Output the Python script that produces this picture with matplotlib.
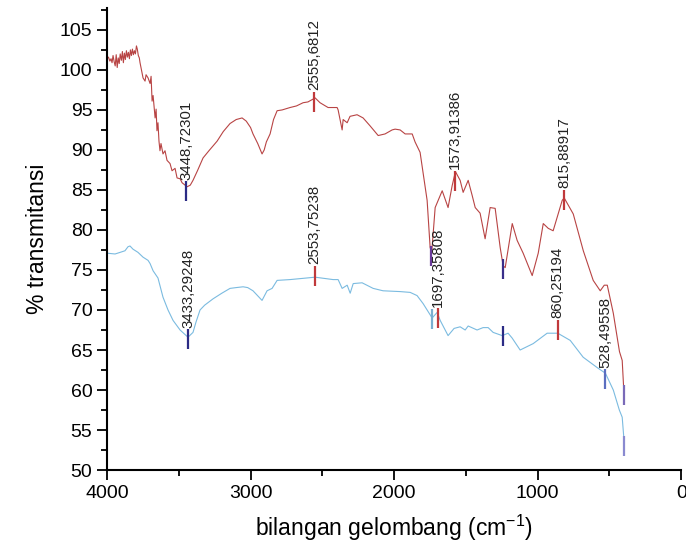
import matplotlib
matplotlib.use("Agg")
import matplotlib.pyplot as plt
from matplotlib.ticker import MultipleLocator

plt.rcParams['font.family'] = ['Liberation Sans', 'DejaVu Sans']
plt.rcParams['mathtext.fontset'] = 'custom'
plt.rcParams['mathtext.rm'] = 'Liberation Sans'
plt.rcParams['mathtext.default'] = 'regular'

# --- data ---
wn_red = [4000, 3990, 3980, 3972, 3965, 3958, 3950, 3943, 3936, 3929, 3922, 3915,
          3908, 3900, 3893, 3886, 3879, 3872, 3865, 3858, 3851, 3844, 3837, 3830,
          3823, 3816, 3809, 3802, 3795, 3789, 3782, 3775, 3770, 3749, 3735, 3728,
          3714, 3700, 3693, 3686, 3679, 3665, 3658, 3652, 3645, 3638, 3631, 3624,
          3610, 3596, 3582, 3561, 3547, 3526, 3512, 3491, 3477, 3442, 3420, 3401,
          3370, 3331, 3290, 3233, 3190, 3143, 3100, 3059, 3030, 3000, 2983, 2950,
          2920, 2905, 2890, 2864, 2840, 2815, 2780, 2725, 2680, 2634, 2600, 2550,
          2516, 2460, 2397, 2390, 2362, 2355, 2327, 2307, 2258, 2216, 2167, 2111,
          2063, 2014, 1993, 1958, 1923, 1874, 1854, 1819, 1770, 1749, 1738, 1714,
          1665, 1624, 1596, 1573, 1540, 1519, 1484, 1456, 1435, 1401, 1366, 1331,
          1296, 1261, 1240, 1226, 1177, 1143, 1101, 1038, 996, 961, 926, 892, 829,
          815, 752, 682, 613, 564, 536, 515, 473, 430, 411, 400]
tr_red = [101.4, 101.6, 101.1, 101.4, 100.9, 101.8, 101.0, 100.5, 101.9, 100.3,
          101.5, 100.8, 102.0, 101.2, 102.3, 100.9, 102.1, 101.3, 102.4, 101.6,
          102.2, 101.4, 102.5, 101.8, 102.6, 101.9, 102.4, 102.0, 103.0, 102.6,
          101.8, 101.5, 100.9, 99.0, 98.6, 99.4, 99.0, 98.3, 99.2, 96.1, 96.8,
          94.0, 95.1, 92.4, 93.4, 91.1, 89.9, 90.8, 89.5, 89.9, 88.7, 88.3, 87.4,
          87.7, 86.5, 86.4, 85.9, 85.4, 85.6, 86.2, 87.4, 89.0, 89.9, 91.1, 92.3,
          93.3, 93.8, 94.0, 93.6, 92.8, 92.0, 90.8, 89.5, 90.0, 91.0, 92.0, 93.8,
          94.9, 95.0, 95.3, 95.5, 95.9, 96.0, 96.5, 95.9, 95.3, 95.3, 95.0, 92.5,
          93.8, 93.4, 94.2, 94.4, 94.0, 93.0, 91.8, 92.0, 92.5, 92.6, 92.5, 92.0,
          92.0, 91.0, 89.7, 83.7, 77.8, 77.2, 82.8, 84.9, 82.8, 85.5, 87.3, 86.2,
          84.7, 86.2, 84.3, 82.8, 82.1, 78.9, 82.8, 82.7, 77.8, 75.5, 75.3, 80.8,
          78.7, 77.1, 74.3, 77.1, 80.8, 80.2, 79.9, 83.7, 84.0, 82.0, 77.4, 73.7,
          72.4, 73.1, 73.1, 69.6, 64.8, 63.7, 60.0]

wn_blue = [4000, 3944, 3909, 3875, 3854, 3840, 3819, 3784, 3749, 3714, 3700, 3679,
           3645, 3610, 3575, 3540, 3491, 3436, 3401, 3380, 3352, 3320, 3261, 3200,
           3143, 3100, 3052, 3020, 2983, 2920, 2885, 2850, 2815, 2725, 2550, 2425,
           2390, 2362, 2327, 2306, 2285, 2223, 2146, 2077, 1958, 1888, 1840, 1798,
           1735, 1700, 1679, 1624, 1582, 1540, 1505, 1484, 1422, 1380, 1345, 1310,
           1247, 1206, 1178, 1122, 1031, 934, 860, 773, 683, 585, 528, 473, 431,
           411, 400]
tr_blue = [77.1, 77.0, 77.2, 77.4, 77.9, 78.0, 77.6, 77.2, 76.6, 76.2, 75.8, 74.9,
           74.0, 71.6, 70.0, 68.7, 67.5, 66.6, 67.2, 68.5, 70.0, 70.6, 71.4, 72.1,
           72.7, 72.8, 72.9, 72.8, 72.4, 71.2, 72.4, 72.7, 73.7, 73.8, 74.1, 73.8,
           73.8, 72.7, 73.1, 72.1, 73.3, 73.4, 72.7, 72.4, 72.3, 72.2, 71.8, 70.8,
           69.0, 69.7, 68.7, 66.8, 67.7, 67.9, 67.5, 68.0, 67.5, 67.8, 67.8, 67.2,
           66.8, 67.1, 66.5, 65.0, 65.8, 67.1, 67.1, 66.2, 64.1, 62.8, 62.1, 60.0,
           57.5, 56.6, 54.1]

# peak marks: position, level, label ('' = no label), mark colour
peak_wn = [3448.7, 2555.7, 1573.9, 815.9, 1240, 1745, 400,
           3433.3, 2553.8, 1697.4, 1735, 1240, 860.3, 528.5, 400]
peak_tr = [84.9, 96.1, 86.2, 83.8, 75.2, 76.8, 59.4,
           66.4, 74.3, 69.0, 68.9, 66.8, 67.6, 61.4, 53.1]
peak_lbl = ['3448,72301', '2555,6812', '1573,91386', '815,88917', '', '', '',
            '3433,29248', '2553,75238', '1697,35808', '', '', '860,25194',
            '528,49558', '']
peak_col = ['#2b2b85', '#c0393b', '#c0393b', '#c0393b', '#3a2f8a', '#6a3a9a',
            '#7a6ab8', '#2b2b85', '#c0393b', '#c0393b', '#7aaed0', '#2b2b85',
            '#c0393b', '#5b6ec0', '#8a8ad0']

fig = plt.figure(figsize=(6.86, 5.53), dpi=100)
ax = fig.add_axes([0.156, 0.150, 0.837, 0.835])

ax.plot(wn_red, tr_red, color='#b84444', lw=0.8)
ax.plot(wn_blue, tr_blue, color='#7bbbe0', lw=0.8)

for w, t, lbl, c in zip(peak_wn, peak_tr, peak_lbl, peak_col):
    ax.plot([w, w], [t - 1.3, t + 1.2], color=c, lw=1.6, solid_capstyle='butt')
    if lbl:
        ax.text(w, t + 1.4, lbl, rotation=90, ha='center', va='bottom',
                fontsize=10.8, color='#222222')

ax.set_xlim(4000, 0)
ax.set_ylim(50, 107.7)
ax.xaxis.set_major_locator(MultipleLocator(1000))
ax.xaxis.set_minor_locator(MultipleLocator(500))
ax.yaxis.set_major_locator(MultipleLocator(5))
ax.yaxis.set_minor_locator(MultipleLocator(2.5))
ax.tick_params(which='major', direction='out', length=7, width=1.3, labelsize=14)
ax.tick_params(which='minor', direction='out', length=4, width=1.3)
ax.spines['top'].set_visible(False)
ax.spines['right'].set_visible(False)
for s in ('left', 'bottom'):
    ax.spines[s].set_linewidth(1.5)

ax.set_xlabel('bilangan gelombang (cm$^{-1}$)', fontsize=16.5, labelpad=8)
ax.set_ylabel('% transmitansi', fontsize=16.5, labelpad=8)

fig.savefig('out.png', dpi=100)
